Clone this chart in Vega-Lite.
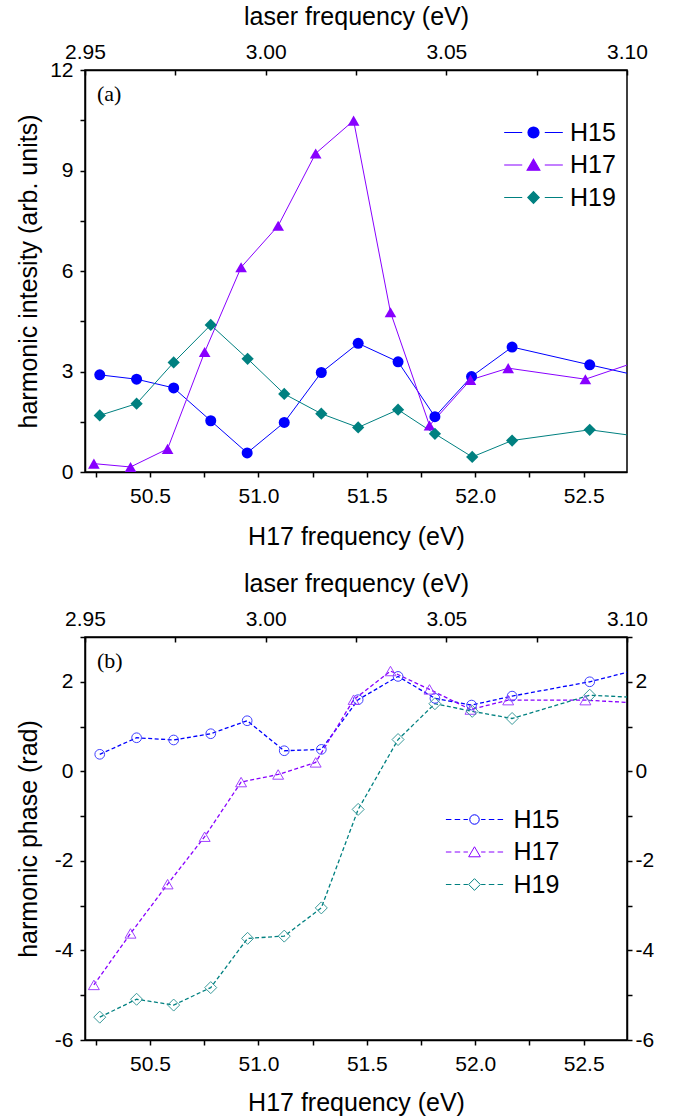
{
  "$schema": "https://vega.github.io/schema/vega-lite/v6.json",
  "padding": {"left": 15, "top": 3, "right": 0, "bottom": 0},
  "background": "white",
  "datasets": {
    "harm": [
      {"s": "H15", "x": 50.268, "I": 2.90, "P": 0.38},
      {"s": "H15", "x": 50.438, "I": 2.77, "P": 0.75},
      {"s": "H15", "x": 50.609, "I": 2.51, "P": 0.70},
      {"s": "H15", "x": 50.780, "I": 1.53, "P": 0.84},
      {"s": "H15", "x": 50.948, "I": 0.57, "P": 1.13},
      {"s": "H15", "x": 51.119, "I": 1.48, "P": 0.46},
      {"s": "H15", "x": 51.290, "I": 2.97, "P": 0.49},
      {"s": "H15", "x": 51.460, "I": 3.84, "P": 1.60},
      {"s": "H15", "x": 51.644, "I": 3.29, "P": 2.12},
      {"s": "H15", "x": 51.814, "I": 1.65, "P": 1.63},
      {"s": "H15", "x": 51.983, "I": 2.85, "P": 1.48},
      {"s": "H15", "x": 52.170, "I": 3.73, "P": 1.68},
      {"s": "H15", "x": 52.528, "I": 3.20, "P": 2.00},
      {"s": "H15", "x": 52.870, "I": 2.70, "P": 2.42},
      {"s": "H17", "x": 50.241, "I": 0.25, "P": -4.77},
      {"s": "H17", "x": 50.410, "I": 0.15, "P": -3.62},
      {"s": "H17", "x": 50.581, "I": 0.69, "P": -2.52},
      {"s": "H17", "x": 50.752, "I": 3.58, "P": -1.46},
      {"s": "H17", "x": 50.920, "I": 6.11, "P": -0.24},
      {"s": "H17", "x": 51.091, "I": 7.35, "P": -0.07},
      {"s": "H17", "x": 51.264, "I": 9.51, "P": 0.20},
      {"s": "H17", "x": 51.439, "I": 10.49, "P": 1.60},
      {"s": "H17", "x": 51.609, "I": 4.77, "P": 2.24},
      {"s": "H17", "x": 51.789, "I": 1.39, "P": 1.83},
      {"s": "H17", "x": 51.978, "I": 2.75, "P": 1.38},
      {"s": "H17", "x": 52.152, "I": 3.10, "P": 1.59},
      {"s": "H17", "x": 52.508, "I": 2.77, "P": 1.59},
      {"s": "H17", "x": 52.850, "I": 3.52, "P": 1.50},
      {"s": "H19", "x": 50.268, "I": 1.69, "P": -5.49},
      {"s": "H19", "x": 50.438, "I": 2.04, "P": -5.09},
      {"s": "H19", "x": 50.609, "I": 3.27, "P": -5.22},
      {"s": "H19", "x": 50.780, "I": 4.39, "P": -4.83},
      {"s": "H19", "x": 50.950, "I": 3.38, "P": -3.73},
      {"s": "H19", "x": 51.119, "I": 2.33, "P": -3.68},
      {"s": "H19", "x": 51.290, "I": 1.74, "P": -3.05},
      {"s": "H19", "x": 51.460, "I": 1.33, "P": -0.85},
      {"s": "H19", "x": 51.644, "I": 1.86, "P": 0.71},
      {"s": "H19", "x": 51.814, "I": 1.14, "P": 1.51},
      {"s": "H19", "x": 51.986, "I": 0.45, "P": 1.34},
      {"s": "H19", "x": 52.170, "I": 0.94, "P": 1.18},
      {"s": "H19", "x": 52.528, "I": 1.26, "P": 1.70},
      {"s": "H19", "x": 52.870, "I": 0.96, "P": 1.62}
    ],
    "laser": [{"lf": 2.95}, {"lf": 3.10}],
    "annA": [{"t": "(a)", "x": 50.255, "y": 11.28}],
    "annB": [{"t": "(b)", "x": 50.255, "y": 2.46}]
  },
  "config": {
    "view": {"stroke": "black", "strokeWidth": 1.5},
    "axis": {
      "grid": false,
      "domainColor": "black",
      "domainWidth": 1.5,
      "tickColor": "black",
      "tickWidth": 1.5,
      "labelFont": "Liberation Sans",
      "labelFontSize": 21,
      "labelColor": "black",
      "titleFont": "Liberation Sans",
      "titleFontSize": 25,
      "titleFontWeight": "normal",
      "titleColor": "black",
      "labelFlush": false,
      "labelOverlap": false
    },
    "legend": {"labelFont": "Liberation Sans", "labelFontSize": 25, "labelColor": "black"}
  },
  "spacing": 20,
  "resolve": {"scale": {"x": "independent", "y": "independent", "color": "independent", "shape": "independent", "stroke": "independent", "fill": "independent", "size": "independent"}},
  "vconcat": [
    {
      "width": 542,
      "height": 402,
      "resolve": {"scale": {"x": "independent"}},
      "layer": [
        {
          "data": {"name": "harm"},
          "resolve": {"scale": {"shape": "independent"}, "legend": {"color": "independent", "stroke": "independent", "shape": "independent"}},
          "layer": [
            {
              "mark": {"type": "line", "strokeWidth": 1, "clip": true},
              "encoding": {
                "x": {"field": "x", "type": "quantitative", "scale": {"domain": [50.2, 52.7], "nice": false, "zero": false},
                  "axis": {"orient": "bottom", "title": "H17 frequency (eV)", "values": [50.25, 50.5, 50.75, 51, 51.25, 51.5, 51.75, 52, 52.25, 52.5],
                    "labelExpr": "abs(datum.value*2-round(datum.value*2))<0.001 ? format(datum.value,'.1f') : ''", "tickSize": 5, "labelPadding": 8, "titlePadding": 18}},
                "y": {"field": "I", "type": "quantitative", "scale": {"domain": [0, 12], "nice": false},
                  "axis": {"title": "harmonic intesity (arb. units)", "values": [0, 1.5, 3, 4.5, 6, 7.5, 9, 10.5, 12],
                    "labelExpr": "datum.value % 3 === 0 ? '' + datum.value : ''", "tickSize": 5, "labelPadding": 7, "titleX": -44}},
                "color": {"field": "s", "type": "nominal", "scale": {"domain": ["H15", "H17", "H19"], "range": ["#0000ff", "#8800ff", "#008080"]}, "legend": null}
              }
            },
            {
              "mark": {"type": "point", "filled": true, "opacity": 1, "clip": true},
              "encoding": {
                "x": {"field": "x", "type": "quantitative"},
                "y": {"field": "I", "type": "quantitative"},
                "color": {"field": "s", "type": "nominal", "legend": null},
                "shape": {"field": "s", "type": "nominal", "scale": {"domain": ["H15", "H17", "H19"], "range": ["circle", "triangle-up", "diamond"]}, "legend": null},
                "size": {"field": "s", "type": "nominal", "scale": {"domain": ["H15", "H17", "H19"], "range": [121, 150, 128]}, "legend": null}
              }
            },
            {
              "mark": {"type": "point", "filled": true, "opacity": 0, "size": 121, "strokeWidth": 1.2, "clip": true},
              "encoding": {
                "x": {"field": "x", "type": "quantitative"},
                "y": {"field": "I", "type": "quantitative"},
                "color": {"field": "s", "type": "nominal",
                  "legend": {"orient": "none", "legendX": 436, "legendY": 50, "title": null, "padding": 0, "symbolSize": 121, "symbolStrokeWidth": 1.2, "symbolOpacity": 1, "labelOffset": 24, "rowPadding": 6.5}},
                "stroke": {"field": "s", "type": "nominal", "scale": {"domain": ["H15", "H17", "H19"], "range": ["#0000ff", "#8800ff", "#008080"]},
                  "legend": {"orient": "none", "legendX": 436, "legendY": 50, "title": null, "padding": 0, "symbolSize": 121, "symbolStrokeWidth": 1.2, "symbolOpacity": 1, "labelOffset": 24, "rowPadding": 6.5}},
                "shape": {"field": "s", "type": "nominal",
                  "scale": {"domain": ["H15", "H17", "H19"], "range": [
                    "M-5.33,0H-2.05M2.05,0H5.33M1,0A1,1,0,1,1,-1,0A1,1,0,1,1,1,0Z",
                    "M-5.33,0H-2.05M2.05,0H5.33M0,-1.05L1.15,0.95L-1.15,0.95Z",
                    "M-5.33,0H-2.05M2.05,0H5.33M0,-1.05L1.03,0L0,1.05L-1.03,0Z"]},
                  "legend": {"orient": "none", "legendX": 436, "legendY": 50, "title": null, "padding": 0, "symbolSize": 121, "symbolStrokeWidth": 1.2, "symbolOpacity": 1, "labelOffset": 24, "rowPadding": 6.5}}
              }
            },
            {
              "data": {"name": "annA"},
              "mark": {"type": "text", "font": "Liberation Serif", "fontSize": 22, "align": "left", "baseline": "middle", "color": "black"},
              "encoding": {
                "x": {"field": "x", "type": "quantitative"},
                "y": {"field": "y", "type": "quantitative"},
                "text": {"field": "t"}
              }
            }
          ]
        },
        {
          "data": {"name": "laser"},
          "mark": {"type": "point", "opacity": 0},
          "encoding": {
            "x": {"field": "lf", "type": "quantitative", "scale": {"domain": [2.95, 3.10], "nice": false, "zero": false},
              "axis": {"orient": "top", "title": "laser frequency (eV)", "values": [2.95, 2.975, 3.0, 3.025, 3.05, 3.075, 3.1],
                "labelExpr": "abs(datum.value*20-round(datum.value*20))<0.001 ? format(datum.value,'.2f') : ''", "tickSize": -5, "labelPadding": 13, "titlePadding": 12}}
          }
        }
      ]
    },
    {
      "width": 542,
      "height": 403,
      "resolve": {"scale": {"x": "independent", "y": "independent"}},
      "layer": [
        {
          "data": {"name": "harm"},
          "resolve": {"scale": {"shape": "independent"}, "legend": {"color": "independent", "shape": "independent"}},
          "layer": [
            {
              "mark": {"type": "line", "strokeWidth": 1.3, "strokeDash": [4, 2.5], "clip": true},
              "encoding": {
                "x": {"field": "x", "type": "quantitative", "scale": {"domain": [50.2, 52.7], "nice": false, "zero": false},
                  "axis": {"orient": "bottom", "title": "H17 frequency (eV)", "values": [50.25, 50.5, 50.75, 51, 51.25, 51.5, 51.75, 52, 52.25, 52.5],
                    "labelExpr": "abs(datum.value*2-round(datum.value*2))<0.001 ? format(datum.value,'.1f') : ''", "tickSize": 5, "labelPadding": 8, "titlePadding": 16}},
                "y": {"field": "P", "type": "quantitative", "scale": {"domain": [-6, 3], "nice": false},
                  "axis": {"title": "harmonic phase (rad)", "values": [-6, -5, -4, -3, -2, -1, 0, 1, 2, 3],
                    "labelExpr": "datum.value % 2 === 0 ? '' + datum.value : ''", "tickSize": 5, "labelPadding": 7, "titleX": -44}},
                "color": {"field": "s", "type": "nominal", "scale": {"domain": ["H15", "H17", "H19"], "range": ["#0000ff", "#8800ff", "#008080"]}, "legend": null}
              }
            },
            {
              "mark": {"type": "point", "filled": false, "strokeWidth": 1, "opacity": 1, "clip": true},
              "encoding": {
                "x": {"field": "x", "type": "quantitative"},
                "y": {"field": "P", "type": "quantitative"},
                "stroke": {"field": "s", "type": "nominal", "scale": {"domain": ["H15", "H17", "H19"], "range": ["#4040ff", "#a040ff", "#3a9a9a"]}, "legend": null},
                "shape": {"field": "s", "type": "nominal", "scale": {"domain": ["H15", "H17", "H19"], "range": ["circle", "triangle-up", "diamond"]}, "legend": null},
                "size": {"field": "s", "type": "nominal", "scale": {"domain": ["H15", "H17", "H19"], "range": [94, 144, 121]}, "legend": null}
              }
            },
            {
              "mark": {"type": "point", "filled": false, "opacity": 0, "size": 121, "strokeWidth": 1, "clip": true},
              "encoding": {
                "x": {"field": "x", "type": "quantitative"},
                "y": {"field": "P", "type": "quantitative"},
                "color": {"field": "s", "type": "nominal",
                  "legend": {"orient": "none", "legendX": 377, "legendY": 170, "title": null, "padding": 0, "symbolSize": 121, "symbolStrokeWidth": 1, "symbolOpacity": 1, "labelOffset": 26.5, "rowPadding": 6.5}},
                "shape": {"field": "s", "type": "nominal",
                  "scale": {"domain": ["H15", "H17", "H19"], "range": [
                    "M-5.2,0H-4.2M-3.6,0H-2.6M-2,0H-1.2M1.2,0H2M2.6,0H3.6M4.2,0H5.2M0.86,0A0.86,0.86,0,1,1,-0.86,0A0.86,0.86,0,1,1,0.86,0Z",
                    "M-5.2,0H-4.2M-3.6,0H-2.6M-2,0H-1.2M1.2,0H2M2.6,0H3.6M4.2,0H5.2M0,-0.95L1.06,0.87L-1.06,0.87Z",
                    "M-5.2,0H-4.2M-3.6,0H-2.6M-2,0H-1.2M1.2,0H2M2.6,0H3.6M4.2,0H5.2M0,-1.06L1.06,0L0,1.06L-1.06,0Z"]},
                  "legend": {"orient": "none", "legendX": 377, "legendY": 170, "title": null, "padding": 0, "symbolSize": 121, "symbolStrokeWidth": 1, "symbolOpacity": 1, "labelOffset": 26.5, "rowPadding": 6.5}}
              }
            },
            {
              "data": {"name": "annB"},
              "mark": {"type": "text", "font": "Liberation Serif", "fontSize": 22, "align": "left", "baseline": "middle", "color": "black"},
              "encoding": {
                "x": {"field": "x", "type": "quantitative"},
                "y": {"field": "y", "type": "quantitative"},
                "text": {"field": "t"}
              }
            }
          ]
        },
        {
          "data": {"name": "laser"},
          "mark": {"type": "point", "opacity": 0},
          "encoding": {
            "x": {"field": "lf", "type": "quantitative", "scale": {"domain": [2.95, 3.10], "nice": false, "zero": false},
              "axis": {"orient": "top", "title": "laser frequency (eV)", "values": [2.95, 2.975, 3.0, 3.025, 3.05, 3.075, 3.1],
                "labelExpr": "abs(datum.value*20-round(datum.value*20))<0.001 ? format(datum.value,'.2f') : ''", "tickSize": -5, "labelPadding": 13, "titlePadding": 12}}
          }
        },
        {
          "data": {"name": "harm"},
          "mark": {"type": "point", "opacity": 0, "clip": true},
          "encoding": {
            "x": {"field": "x", "type": "quantitative", "scale": {"domain": [50.2, 52.7], "nice": false, "zero": false}, "axis": null},
            "y": {"field": "P", "type": "quantitative", "scale": {"domain": [-6, 3], "nice": false},
              "axis": {"orient": "right", "title": null, "values": [-6, -5, -4, -3, -2, -1, 0, 1, 2, 3],
                "labelExpr": "datum.value % 2 === 0 ? '' + datum.value : ''", "tickSize": 5, "labelPadding": 3}}
          }
        }
      ]
    }
  ]
}
